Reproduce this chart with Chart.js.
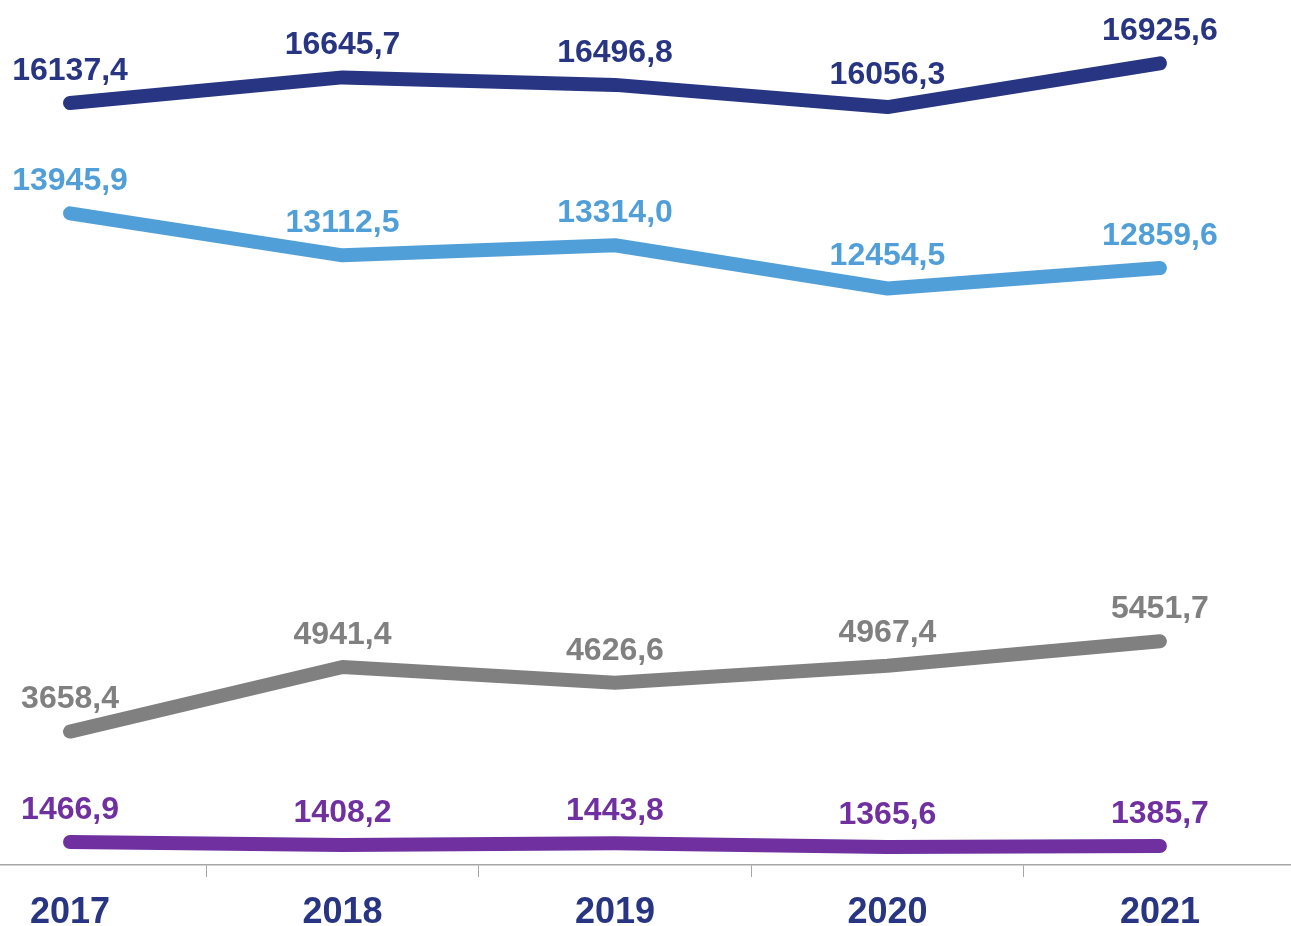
<!DOCTYPE html>
<html>
<head>
<meta charset="utf-8">
<script src="https://cdn.jsdelivr.net/npm/chart.js@4"></script>
<style>
    html, body { margin: 0; padding: 0; background: #ffffff; }
    #wrap { width: 1291px; height: 926px; }
</style>
</head>
<body>
<div id="wrap"><canvas id="canvasGraph"></canvas></div>
<script>
const annees = ["2017", "2018", "2019", "2020", "2021"]
const serieBleuFonce = [16137.4, 16645.7, 16496.8, 16056.3, 16925.6]
const serieBleuClair = [13945.9, 13112.5, 13314.0, 12454.5, 12859.6]
const serieGris = [3658.4, 4941.4, 4626.6, 4967.4, 5451.7]
const serieViolet = [1466.9, 1408.2, 1443.8, 1365.6, 1385.7]

const police = "'Liberation Sans', Arial, sans-serif"

function creerDataset(valeurs, couleur) {
    return {
        data: valeurs.map((v, i) => ({x: i, y: v})),
        borderColor: couleur,
        backgroundColor: couleur,
        borderWidth: 14,
        borderCapStyle: 'round',
        borderJoinStyle: 'round',
        pointRadius: 0,
        tension: 0,
        fill: false
    }
}

// etiquettes de valeur au dessus de chaque point
const pluginEtiquettes = {
    id: 'etiquettes',
    afterDatasetsDraw(chart) {
        let ctx = chart.ctx
        ctx.save()
        ctx.font = "bold 32px " + police
        ctx.textAlign = 'center'
        ctx.textBaseline = 'middle'
        chart.data.datasets.forEach((dataset, d) => {
            let meta = chart.getDatasetMeta(d)
            ctx.fillStyle = dataset.borderColor
            meta.data.forEach((pt, i) => {
                let texte = dataset.data[i].y.toFixed(1).replace('.', ',')
                ctx.fillText(texte, pt.x, pt.y - 32)
            })
        })
        ctx.restore()
    }
}

new Chart(document.getElementById("canvasGraph"), {
    type: 'line',
    data: {
        datasets: [
            creerDataset(serieBleuFonce, "#283583"),
            creerDataset(serieBleuClair, "#519fd8"),
            creerDataset(serieGris, "#808080"),
            creerDataset(serieViolet, "#7030a0")
        ]
    },
    options: {
        responsive: true,
        maintainAspectRatio: false,
        animation: false,
        layout: { padding: 0 },
        scales: {
            x: {
                type: 'linear',
                min: -0.257,
                max: 4.481,
                afterBuildTicks: function(scale) {
                    let ticks = []
                    for (let v = 0; v <= 4; v += 0.5) ticks.push({value: v})
                    scale.ticks = ticks
                },
                afterFit: function(scale) {
                    // hauteur fixe de l'axe pour caler la ligne de base
                    scale.height = 61
                },
                border: { display: true, color: '#a6a6a6', width: 1.5 },
                grid: {
                    drawOnChartArea: false,
                    drawTicks: true,
                    tickLength: 12,
                    color: function(ctx) {
                        if (ctx.tick && !Number.isInteger(ctx.tick.value)) return '#a6a6a6'
                        return 'rgba(0,0,0,0)'
                    }
                },
                ticks: {
                    autoSkip: false,
                    maxRotation: 0,
                    padding: 14,
                    color: "#283583",
                    font: { family: police, size: 36, weight: 'bold' },
                    callback: function(value) {
                        if (Number.isInteger(value)) return annees[value]
                        return ''
                    }
                }
            },
            y: {
                display: false,
                min: 1010,
                max: 18182
            }
        },
        plugins: {
            legend: { display: false },
            tooltip: { enabled: false }
        }
    },
    plugins: [pluginEtiquettes]
})
</script>
</body>
</html>
